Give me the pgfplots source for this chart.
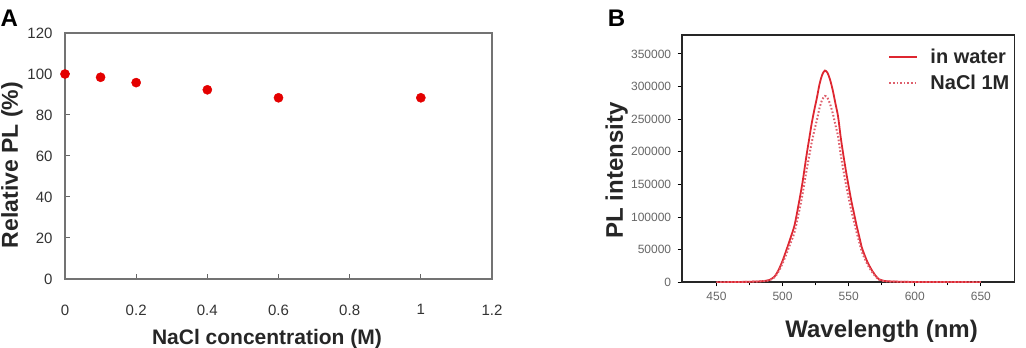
\documentclass[border=0pt]{standalone}
\usepackage{pgfplots}
\pgfplotsset{compat=1.18}
\usepackage{fontspec}
\setmainfont{Liberation Sans}
\definecolor{dotred}{RGB}{228,0,0}
\definecolor{waterred}{RGB}{222,38,48}
\definecolor{naclred}{RGB}{222,95,108}
\begin{document}
\begin{tikzpicture}[x=1pt,y=1pt]
\useasboundingbox (0,0) rectangle (1026,348);
% Panel A
\begin{axis}[
  at={(65pt,69pt)}, anchor=south west,
  scale only axis, width=427pt, height=246pt,
  xmin=0, xmax=1.2, ymin=0, ymax=120,
  xtick={0,0.2,0.4,0.6,0.8,1,1.2}, ytick={0,20,40,60,80,100,120},
  xtick pos=bottom, ytick pos=left, tick align=inside,
  major tick length=5pt,
  axis line style={black!55, line width=1.4pt},
  every tick/.style={black!60, line width=1pt},
  /pgf/number format/assume math mode=true,
  ticklabel style={font=\fontsize{15}{15}\selectfont, text=black!80},
  xticklabel style={yshift=-22pt},
  yticklabel style={xshift=-9pt},
  xlabel={\textbf{NaCl concentration (M)}},
  ylabel={\textbf{Relative PL (\%)}},
  xlabel style={font=\fontsize{21}{21}\selectfont, text=black!85, at={(axis description cs:0.473,-0.245)}, anchor=center},
  ylabel style={font=\fontsize{23}{23}\selectfont, text=black!85, inner sep=0pt, at={(axis description cs:-0.1499,0.463)}, anchor=north, rotate=0},
]
\addplot[only marks, mark=*, mark size=4.6pt, color=dotred, mark options={draw=dotred, fill=dotred}] coordinates {
(0,100) (0.1,98.4) (0.2,95.8) (0.4,92.3) (0.6,88.4) (1,88.4)
};
\end{axis}
\node[font=\fontsize{24}{24}\selectfont\bfseries, inner sep=0pt, anchor=west] at (0.5,329.5) {A};
% Panel B
\begin{axis}[
  at={(681.7pt,65.7pt)}, anchor=south west,
  scale only axis, width=332.6pt, height=247.3pt,
  xmin=423.7, xmax=675.3, ymin=0, ymax=379000,
  xtick={450,500,550,600,650}, minor xtick={475,525,575,625},
  ytick={0,50000,100000,150000,200000,250000,300000,350000},
  scaled y ticks=false,
  xtick pos=bottom, ytick pos=left, tick align=outside,
  major tick length=4pt, minor tick length=3pt,
  axis line style={black!85, line width=1.6pt},
  every tick/.style={black, line width=1pt},
  /pgf/number format/assume math mode=true,
  yticklabel style={/pgf/number format/fixed, /pgf/number format/1000 sep={}, xshift=-3pt},
  ticklabel style={font=\fontsize{12}{12}\selectfont, text=black!60},
  xticklabel style={yshift=-2pt},
  xlabel={\textbf{Wavelength (nm)}},
  ylabel={\textbf{PL intensity}},
  xlabel style={font=\fontsize{24}{24}\selectfont, text=black!85, at={(axis description cs:0.601,-0.200)}, anchor=center},
  ylabel style={font=\fontsize{24}{24}\selectfont, text=black!85, at={(axis description cs:-0.1954,0.452)}, anchor=center},
  legend style={at={(axis description cs:0.612,0.96)}, anchor=north west, draw=none, fill=none,
    font=\fontsize{20}{20}\selectfont\bfseries, text=black!85, row sep=6pt},
  legend cell align=left,
  legend image code/.code={\draw[#1] (0pt,0pt) -- (28pt,0pt); \path (38pt,0pt);},
]
\addplot[waterred, line width=1.8pt, smooth] coordinates {
(450,0) (460,300) (470,600) (480,1200) (485,1800) (490,3500) (494,9000) (497,19000)
(500,33000) (503,50000) (506,68000) (509,87000) (512,118000) (515,152000) (518,193000)
(520,218000) (522,243000) (524,264000) (526,283000) (528,304000) (530,318000) (532,324500)
(534,321000) (536,310000) (538,294000) (540,274000) (542,254000) (544,222000) (546,195000)
(548,170000) (550,147000) (552,125000) (554,106000) (556,87000) (558,70000) (560,53000)
(562,42000) (564,32000) (566,24000) (568,17000) (570,11000) (573,4500) (576,2500)
(580,1500) (590,800) (600,500) (620,300) (650,200)
};
\addlegendentry{in water}
\addplot[naclred, line width=2pt, dash pattern=on 1.6pt off 2pt, smooth] coordinates {
(450,0) (460,260) (470,530) (480,1060) (485,1600) (490,3100) (494,7900) (497,16700)
(500,29000) (503,44000) (506,59800) (509,76600) (512,103800) (515,133800) (518,169800)
(520,191800) (522,213800) (524,232300) (526,249000) (528,267500) (530,279800) (532,285600)
(534,282500) (536,272800) (538,258700) (540,241100) (542,223500) (544,195400) (546,171600)
(548,149600) (550,129400) (552,110000) (554,93300) (556,76600) (558,61600) (560,46600)
(562,37000) (564,28200) (566,21100) (568,15000) (570,9700) (573,4000) (576,2200)
(580,1300) (590,700) (600,440) (620,260) (650,180)
};
\addlegendentry{NaCl 1M}
\end{axis}
\node[font=\fontsize{24}{24}\selectfont\bfseries] at (616.5,329.5) {B};
\end{tikzpicture}
\end{document}
